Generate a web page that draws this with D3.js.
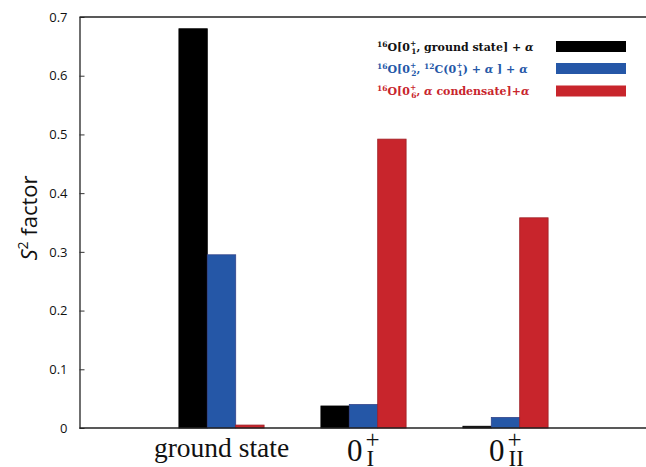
<!DOCTYPE html>
<html>
<head>
<meta charset="utf-8">
<script src="https://cdn.jsdelivr.net/npm/d3@7/dist/d3.min.js"></script>
<style>
body { margin: 0; background: #fff; }
</style>
</head>
<body>
<svg id="chart" width="646" height="467"></svg>
<script>
// data
const states = ["ground state", "0I", "0II"];
const seriesNames = ["gs", "c12", "cond"];
const gsValues = [0.68, 0.0375, 0.003];
const c12Values = [0.295, 0.04, 0.018];
const condValues = [0.005, 0.492, 0.358];
const yTicks = [0, 0.1, 0.2, 0.3, 0.4, 0.5, 0.6, 0.7];
const colors = ["#000000", "#2557a7", "#c8252c"];
const strokes = ["#000000", "#33448a", "#9e1f25"];

const svg = d3.select("#chart");
const x = d3.scaleLinear().domain([0, 4]).range([79.5, 647.5]);
const y = d3.scaleLinear().domain([0, 0.7]).range([428, 17]);
const barW = x(0.2) - x(0);

const allSeries = [gsValues, c12Values, condValues];

// bars
allSeries.forEach((vals, si) => {
  svg.append("g").selectAll("rect")
    .data(vals)
    .join("rect")
    .attr("x", (d, i) => x(i + 1) + (si - 1.5) * barW)
    .attr("y", d => y(d))
    .attr("width", barW)
    .attr("height", d => y(0) - y(d))
    .attr("fill", colors[si])
    .attr("stroke", strokes[si])
    .attr("stroke-width", 0.8);
});

// axes
const yAxis = d3.axisLeft(y).tickValues(yTicks).tickSizeInner(-5).tickSizeOuter(0)
  .tickFormat(d => d === 0 ? "0" : d3.format(".1f")(d)).tickPadding(12);
const gy = svg.append("g").attr("transform", "translate(79.5,0)").call(yAxis);
gy.select(".domain").attr("stroke", "#222").attr("stroke-width", 1.3);
gy.selectAll(".tick line").attr("stroke", "#333");
gy.selectAll("text").attr("font-family", "Open Sans, sans-serif").attr("font-size", 13).attr("fill", "#111");

// frame top and bottom
svg.append("line").attr("x1", 79.5).attr("x2", 646).attr("y1", y(0.7)).attr("y2", y(0.7))
  .attr("stroke", "#222").attr("stroke-width", 1.3);
svg.append("line").attr("x1", 79.5).attr("x2", 646).attr("y1", y(0)).attr("y2", y(0))
  .attr("stroke", "#222").attr("stroke-width", 1.3);

// y label
const yl = svg.append("text").attr("transform", "translate(37,218) rotate(-90)")
  .attr("text-anchor", "middle").attr("font-family", "Open Sans, sans-serif")
  .attr("font-size", 22).attr("fill", "#111");
yl.append("tspan").attr("font-style", "italic").text("S");
yl.append("tspan").attr("font-size", 14).attr("dy", -9).text("2");
yl.append("tspan").attr("dy", 9).text(" factor");

// x labels
const serif = "Liberation Serif, DejaVu Serif, serif";
svg.append("text").attr("x", x(1)).attr("y", 457).attr("text-anchor", "middle")
  .attr("font-family", serif).attr("font-size", 27.5).attr("fill", "#111").text("ground state");

[[2, "I"], [3, "II"]].forEach(([pos, sub]) => {
  const g = svg.append("g").attr("font-family", serif).attr("fill", "#111");
  const x0 = x(pos) - 16.5;
  g.append("text").attr("x", x0).attr("y", 460.5).attr("font-size", 31).text("0");
  g.append("text").attr("x", x0 + 18.5).attr("y", 448).attr("font-size", 25).text("+");
  g.append("text").attr("x", x0 + 19.5).attr("y", 465.5).attr("font-size", 23).text(sub);
});

// legend
const legendY = [46.5, 68.5, 91];
const lg = svg.append("g").attr("font-family", "DejaVu Serif, serif").attr("font-weight", "bold").attr("font-size", 11);
seriesNames.forEach((s, i) => {
  lg.append("rect").attr("x", 556).attr("y", legendY[i] - 5.5).attr("width", 70).attr("height", 11)
    .attr("fill", colors[i]);
});

function legendText(i, parts) {
  const t = lg.append("text").attr("x", 377).attr("y", legendY[i] + 4)
    .attr("fill", colors[i] === "#000000" ? "#111" : colors[i]);
  parts.forEach(p => {
    const ts = t.append("tspan").text(p.t);
    if (p.fs) ts.attr("font-size", p.fs);
    if (p.dy) ts.attr("dy", p.dy);
    if (p.dx) ts.attr("dx", p.dx);
    if (p.it) ts.attr("font-style", "italic");
  });
}
legendText(0, [
  {t: "16", fs: 7.5, dy: -4}, {t: "O[0", dy: 4}, {t: "+", fs: 7.5, dy: -5}, {t: "1", fs: 7.5, dy: 8, dx: -5},
  {t: ", ground state] + ", dy: -3}, {t: "α", it: true}
]);
legendText(1, [
  {t: "16", fs: 7.5, dy: -4}, {t: "O[0", dy: 4}, {t: "+", fs: 7.5, dy: -5}, {t: "2", fs: 7.5, dy: 8, dx: -5},
  {t: ", ", dy: -3}, {t: "12", fs: 7.5, dy: -4}, {t: "C(0", dy: 4}, {t: "+", fs: 7.5, dy: -5}, {t: "1", fs: 7.5, dy: 8, dx: -5},
  {t: ") + ", dy: -3}, {t: "α", it: true}, {t: " ] + "}, {t: "α", it: true}
]);
legendText(2, [
  {t: "16", fs: 7.5, dy: -4}, {t: "O[0", dy: 4}, {t: "+", fs: 7.5, dy: -5}, {t: "6", fs: 7.5, dy: 8, dx: -5},
  {t: ", ", dy: -3}, {t: "α", it: true}, {t: " condensate]+"}, {t: "α", it: true}
]);
</script>
</body>
</html>
